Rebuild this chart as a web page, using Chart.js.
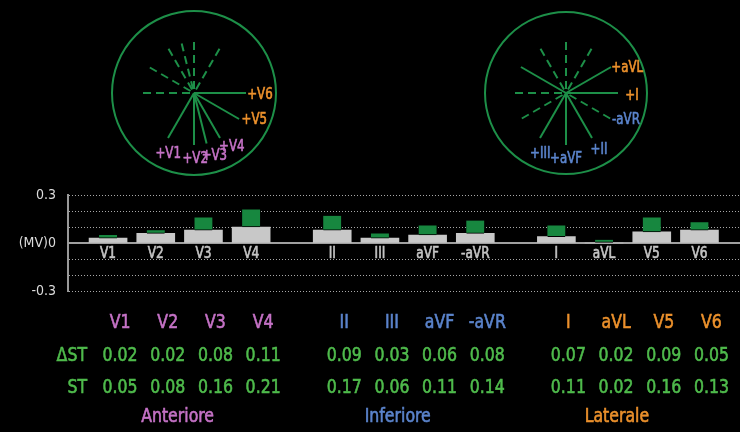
<!DOCTYPE html>
<html>
<head>
<meta charset="utf-8">
<script src="https://cdn.jsdelivr.net/npm/chart.js@4.4.0/dist/chart.umd.min.js"></script>
<style>
  html, body { margin: 0; padding: 0; background: #000; }
  #wrap { position: relative; width: 740px; height: 432px; }
</style>
</head>
<body>
<div id="wrap"><canvas id="st_chart"></canvas></div>
<script>
// ST values per lead (mV)
const leads = ['V1', 'V2', 'V3', 'V4', 'II', 'III', 'aVF', '-aVR', 'I', 'aVL', 'V5', 'V6'];
const leadGroups = [0, 0, 0, 0, 1, 1, 1, 1, 2, 2, 2, 2];
const groupNames = ['Anteriore', 'Inferiore', 'Laterale'];
const deltaST = [0.02, 0.02, 0.08, 0.11, 0.09, 0.03, 0.06, 0.08, 0.07, 0.02, 0.09, 0.05];
const stValues = [0.05, 0.08, 0.16, 0.21, 0.17, 0.06, 0.11, 0.14, 0.11, 0.02, 0.16, 0.13];
const rowLabels = ['ΔST', 'ST'];
const yLabelValues = [0.3, 0, -0.3];
const yLabelTexts = ['0.3', '(MV)0', '-0.3'];

// lead axes of the two circles (degrees, 0 = right, clockwise)
const precordialAxes = [120, 90, 76, 60, 30, 0];
const precordialNames = ['+V1', '+V2', '+V3', '+V4', '+V5', '+V6'];
const precordialNameAngles = [113, 89, 72, 55, 24, 2];
const limbAxes = [0, -30, 60, 90, 120, -150];
const limbNames = ['+aVL', '+I', '-aVR', '+II', '+aVF', '+III'];
const limbNameAngles = [-22, 2.6, 24.7, 60, 90, 113];

const FONT = "'DejaVu Sans Condensed', 'DejaVu Sans', sans-serif";
const SQUEEZE = 0.875;
const groupColors = ['#c572c6', '#5b84cc', '#ec912c'];
const textGreen = '#4fbb4c';
const lineGreen = '#1d8f48';
const GROUP_GAP = 0.7;
const groupLabelShift = [-2, -6, -11];

const positions = leads.map((_, i) => i + leadGroups[i] * GROUP_GAP);
const baseValues = stValues.map((v, i) => +(v - deltaST[i]).toFixed(2));

// narrower and a bit heavier text, the monitor font is a condensed medium
const squeezeText = (ctx, text, x, y, sx = SQUEEZE) => {
  ctx.save();
  ctx.translate(x, y);
  ctx.scale(sx, 1);
  ctx.fillText(text, 0, 0);
  ctx.strokeStyle = ctx.fillStyle;
  ctx.lineWidth = 0.6;
  ctx.strokeText(text, 0, 0);
  ctx.restore();
};

const drawCircle = (ctx, cx, cy, r, axes, names, nameAngles, nameColors) => {
  ctx.strokeStyle = lineGreen;
  ctx.lineWidth = 2;
  ctx.setLineDash([]);
  ctx.beginPath();
  ctx.arc(cx, cy, r, 0, Math.PI * 2);
  ctx.stroke();
  const len = 52;
  axes.forEach(a => {
    const rad = (a * Math.PI) / 180;
    ctx.setLineDash([]);
    ctx.beginPath();
    ctx.moveTo(cx, cy);
    ctx.lineTo(cx + Math.cos(rad) * len, cy + Math.sin(rad) * len);
    ctx.stroke();
    ctx.setLineDash([8, 5]);
    ctx.beginPath();
    ctx.moveTo(cx - Math.cos(rad) * 4, cy - Math.sin(rad) * 4);
    ctx.lineTo(cx - Math.cos(rad) * len, cy - Math.sin(rad) * len);
    ctx.stroke();
  });
  ctx.setLineDash([]);
  ctx.font = `15px ${FONT}`;
  ctx.textAlign = 'center';
  ctx.textBaseline = 'middle';
  names.forEach((n, i) => {
    const rad = (nameAngles[i] * Math.PI) / 180;
    ctx.fillStyle = nameColors[i];
    squeezeText(ctx, n, cx + Math.cos(rad) * 66, cy + Math.sin(rad) * 66);
  });
};

const overlay = {
  id: 'stOverlay',
  beforeDatasetsDraw(chart) {
    // zero line, bars sit on it
    const { ctx, chartArea } = chart;
    const y0 = chart.scales.y.getPixelForValue(0);
    ctx.save();
    ctx.strokeStyle = '#a0a0a0';
    ctx.lineWidth = 2;
    ctx.beginPath();
    ctx.moveTo(chartArea.left, y0);
    ctx.lineTo(chartArea.right, y0);
    ctx.stroke();
    ctx.restore();
  },
  afterDraw(chart) {
    const { ctx } = chart;
    const x = chart.scales.x;
    const y0 = chart.scales.y.getPixelForValue(0);
    ctx.save();

    drawCircle(ctx, 194, 93, 82, precordialAxes, precordialNames, precordialNameAngles,
      precordialNames.map((_, i) => (i < 4 ? groupColors[0] : groupColors[2])));
    drawCircle(ctx, 566, 93, 81, limbAxes, limbNames, limbNameAngles,
      limbNames.map((_, i) => (i < 2 ? groupColors[2] : groupColors[1])));

    // lead names under the zero line
    ctx.textAlign = 'center';
    ctx.textBaseline = 'middle';
    ctx.font = `15px ${FONT}`;
    ctx.fillStyle = '#c4c4c4';
    leads.forEach((lead, i) => {
      squeezeText(ctx, lead, x.getPixelForValue(positions[i]), y0 + 11, 0.9);
    });

    // table
    ctx.font = `20px ${FONT}`;
    ctx.textAlign = 'right';
    ctx.fillStyle = textGreen;
    squeezeText(ctx, rowLabels[0], 87, 356);
    squeezeText(ctx, rowLabels[1], 87, 388);
    ctx.textAlign = 'center';
    leads.forEach((lead, i) => {
      const px = x.getPixelForValue(positions[i]) + 12;
      ctx.fillStyle = groupColors[leadGroups[i]];
      squeezeText(ctx, lead, px, 323);
      ctx.fillStyle = textGreen;
      squeezeText(ctx, deltaST[i].toFixed(2), px, 356);
      squeezeText(ctx, stValues[i].toFixed(2), px, 388);
    });
    groupNames.forEach((g, gi) => {
      const ps = positions.filter((_, i) => leadGroups[i] === gi).map(p => x.getPixelForValue(p));
      ctx.fillStyle = groupColors[gi];
      squeezeText(ctx, g, (Math.min(...ps) + Math.max(...ps)) / 2 + groupLabelShift[gi], 417);
    });
    ctx.restore();
  },
};

Chart.defaults.font.family = FONT;

new Chart(document.getElementById('st_chart'), {
  type: 'bar',
  data: {
    datasets: [
      {
        label: 'ST base',
        data: positions.map((p, i) => ({ x: p, y: [0, baseValues[i]] })),
        backgroundColor: '#c8c8c8',
        borderWidth: 0,
        barThickness: 38,
        grouped: false,
        order: 2,
      },
      {
        label: 'ΔST',
        data: positions.map((p, i) => ({ x: p, y: [baseValues[i], stValues[i]] })),
        backgroundColor: '#17873f',
        borderColor: '#000',
        borderWidth: { top: 0, left: 0, right: 0, bottom: 1 },
        borderSkipped: false,
        barThickness: 18,
        grouped: false,
        order: 1,
      },
    ],
  },
  options: {
    responsive: true,
    maintainAspectRatio: false,
    animation: false,
    layout: { padding: { top: 195, bottom: 141, left: 0, right: 0 } },
    plugins: { legend: { display: false }, tooltip: { enabled: false } },
    scales: {
      x: {
        type: 'linear',
        display: false,
        offset: false,
        min: -0.84,
        max: 13.25,
      },
      y: {
        min: -0.3,
        max: 0.3,
        afterFit: scale => {
          scale.width = 68;
        },
        ticks: {
          stepSize: 0.1,
          autoSkip: false,
          color: '#dcdcdc',
          font: { size: 14 },
          padding: 12,
          callback: value => {
            const k = yLabelValues.findIndex(v => Math.abs(v - value) < 1e-6);
            return k >= 0 ? yLabelTexts[k] : '';
          },
        },
        grid: {
          drawTicks: false,
          lineWidth: 1,
          color: ctx => (Math.abs(ctx.tick.value) < 1e-6 ? 'transparent' : '#a8a8a8'),
        },
        border: { display: true, color: '#9a9a9a', width: 2, dash: [1, 2] },
      },
    },
  },
  plugins: [overlay],
});
</script>
</body>
</html>
